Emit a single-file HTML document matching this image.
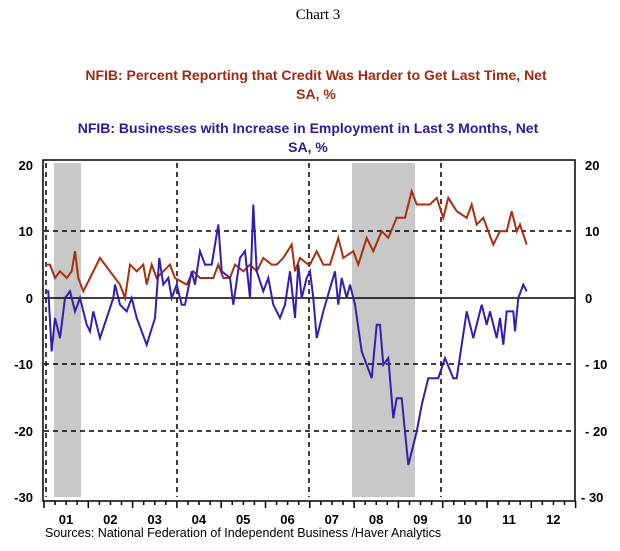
<!DOCTYPE html><html><head><style>
body{margin:0;background:#fff;width:620px;height:546px;overflow:hidden;font-family:"Liberation Sans",sans-serif}
</style></head><body>
<svg width="620" height="546" xmlns="http://www.w3.org/2000/svg" font-family="Liberation Sans, sans-serif">
<text x="318" y="19" font-family="Liberation Serif, serif" font-size="15" text-anchor="middle">Chart 3</text>
<g font-size="14" font-weight="bold" fill="#a02a10" text-anchor="middle">
<text x="316" y="80">NFIB: Percent Reporting that Credit Was Harder to Get Last Time, Net</text>
<text x="316" y="99">SA, %</text></g>
<g font-size="14" font-weight="bold" fill="#2a1aa0" text-anchor="middle">
<text x="308" y="133">NFIB: Businesses with Increase in Employment in Last 3 Months, Net</text>
<text x="308" y="152">SA, %</text></g>
<rect x="54" y="163" width="27" height="334" fill="#c8c8c8"/>
<rect x="352" y="163" width="63" height="334" fill="#c8c8c8"/>
<g stroke="#000" stroke-width="1.5" stroke-dasharray="5,4" fill="none">
<line x1="44" y1="231" x2="575" y2="231"/><line x1="44" y1="364" x2="575" y2="364"/><line x1="44" y1="431" x2="575" y2="431"/>
<line x1="46" y1="163" x2="46" y2="497"/><line x1="177" y1="163" x2="177" y2="497"/><line x1="309" y1="163" x2="309" y2="497"/><line x1="441" y1="163" x2="441" y2="497"/>
</g>
<line x1="44" y1="298" x2="575" y2="298" stroke="#000" stroke-width="1.5"/>
<rect x="43" y="160" width="532" height="341" fill="none" stroke="#000" stroke-width="1.5"/>
<g id="ticks" stroke="#000" stroke-width="1.5"></g>
<g font-size="13" font-weight="bold" text-anchor="end">
<text x="33" y="170">20</text><text x="33" y="236">10</text><text x="33" y="303">0</text><text x="33" y="369">-10</text><text x="33" y="436">-20</text><text x="33" y="502">-30</text></g>
<g font-size="13" font-weight="bold">
<text x="585" y="170">20</text><text x="585" y="236">10</text><text x="585" y="303">0</text><text x="585" y="369">- 10</text><text x="585" y="436">- 20</text><text x="581" y="502">- 30</text></g>
<g id="xl" font-size="13" font-weight="bold" text-anchor="middle"></g>
<text x="45" y="537" font-size="12.5">Sources:  National Federation of Independent Business /Haver Analytics</text>
<polyline id="red" fill="none" stroke="#a83010" stroke-width="2"/>
<polyline id="blue" fill="none" stroke="#3020b0" stroke-width="2"/>
</svg>
<script>
var ns="http://www.w3.org/2000/svg";
function Y(v){return 298-v*6.68}
var t=document.getElementById("ticks"),xl=document.getElementById("xl");
for(var i=0;i<=12;i++){var x=44+i*44.3;var l=document.createElementNS(ns,"line");l.setAttribute("x1",x);l.setAttribute("x2",x);l.setAttribute("y1",501);l.setAttribute("y2",508);t.appendChild(l);
for(var m=1;m<4&&i<12;m++){var l2=document.createElementNS(ns,"line");var xx=x+m*11.07;l2.setAttribute("x1",xx);l2.setAttribute("x2",xx);l2.setAttribute("y1",501);l2.setAttribute("y2",505);t.appendChild(l2);}
if(i<12){var tx=document.createElementNS(ns,"text");tx.setAttribute("x",x+22);tx.setAttribute("y",524);tx.textContent=("0"+(i+1)).slice(-2);xl.appendChild(tx);}
[[0,0]].forEach(function(){});}
// zoom1 coords: img x = zx/3 ; zoom2: img x = 310+zx/3
var b1=[135,1,145,1,155,-8,165,-3,180,-6,195,0,210,1,225,-2,240,0,260,-4,270,-5,280,-2,300,-6,320,-3,340,0,345,2,360,-1,380,-2,395,0,410,-3,440,-7,465,-3,478,6,490,2,505,3,515,0,530,2,545,-1,555,-1,575,4,585,2,600,7,615,5,635,5,655,11,665,4,690,3,700,-1,720,6,735,7,750,0,760,14,770,4,790,1,805,3,820,-1,840,-3,855,-1,870,4,885,-3,895,5,905,0,920,3];
var b2=[0,4,10,0,20,-6,40,-2,75,4,85,-1,95,3,110,0,120,2,135,-1,155,-8,185,-12,200,-4,210,-4,220,-10,235,-9,250,-18,260,-15,275,-15,295,-25,320,-20,335,-16,355,-12,385,-12,405,-9,430,-12,440,-12,470,-2,490,-6,515,-1,530,-4,540,-2,560,-6,570,-3,580,-7,590,-2,610,-2,615,-5,625,0,640,2,650,1];
var r1=[135,5,150,5,165,3,180,4,200,3,215,4,225,7,235,3,250,1,270,3,300,6,330,4,360,2,375,0,390,5,410,4,430,5,440,2,455,5,470,3,510,5,525,3,560,2,580,4,600,3,640,3,655,5,670,3,690,3,705,5,730,4,750,5,770,4,790,6,815,5,830,5,850,6,875,8,885,4,900,6,925,5];
var r2=[0,5,20,7,40,5,60,5,85,9,100,6,130,7,145,5,170,9,190,7,215,10,235,9,260,12,285,12,305,16,320,14,360,14,380,15,400,12,415,15,440,13,470,12,485,14,500,11,520,12,550,8,570,10,590,10,605,13,620,10,630,11,650,8];
function pts(a,b){var p=[];for(var i=0;i<a.length;i+=2)p.push((a[i]/3).toFixed(1)+","+Y(a[i+1]).toFixed(1));for(var i=0;i<b.length;i+=2)p.push((310+b[i]/3).toFixed(1)+","+Y(b[i+1]).toFixed(1));return p.join(" ");}
document.getElementById("red").setAttribute("points",pts(r1,r2));
document.getElementById("blue").setAttribute("points",pts(b1,b2));
</script>
</body></html>
